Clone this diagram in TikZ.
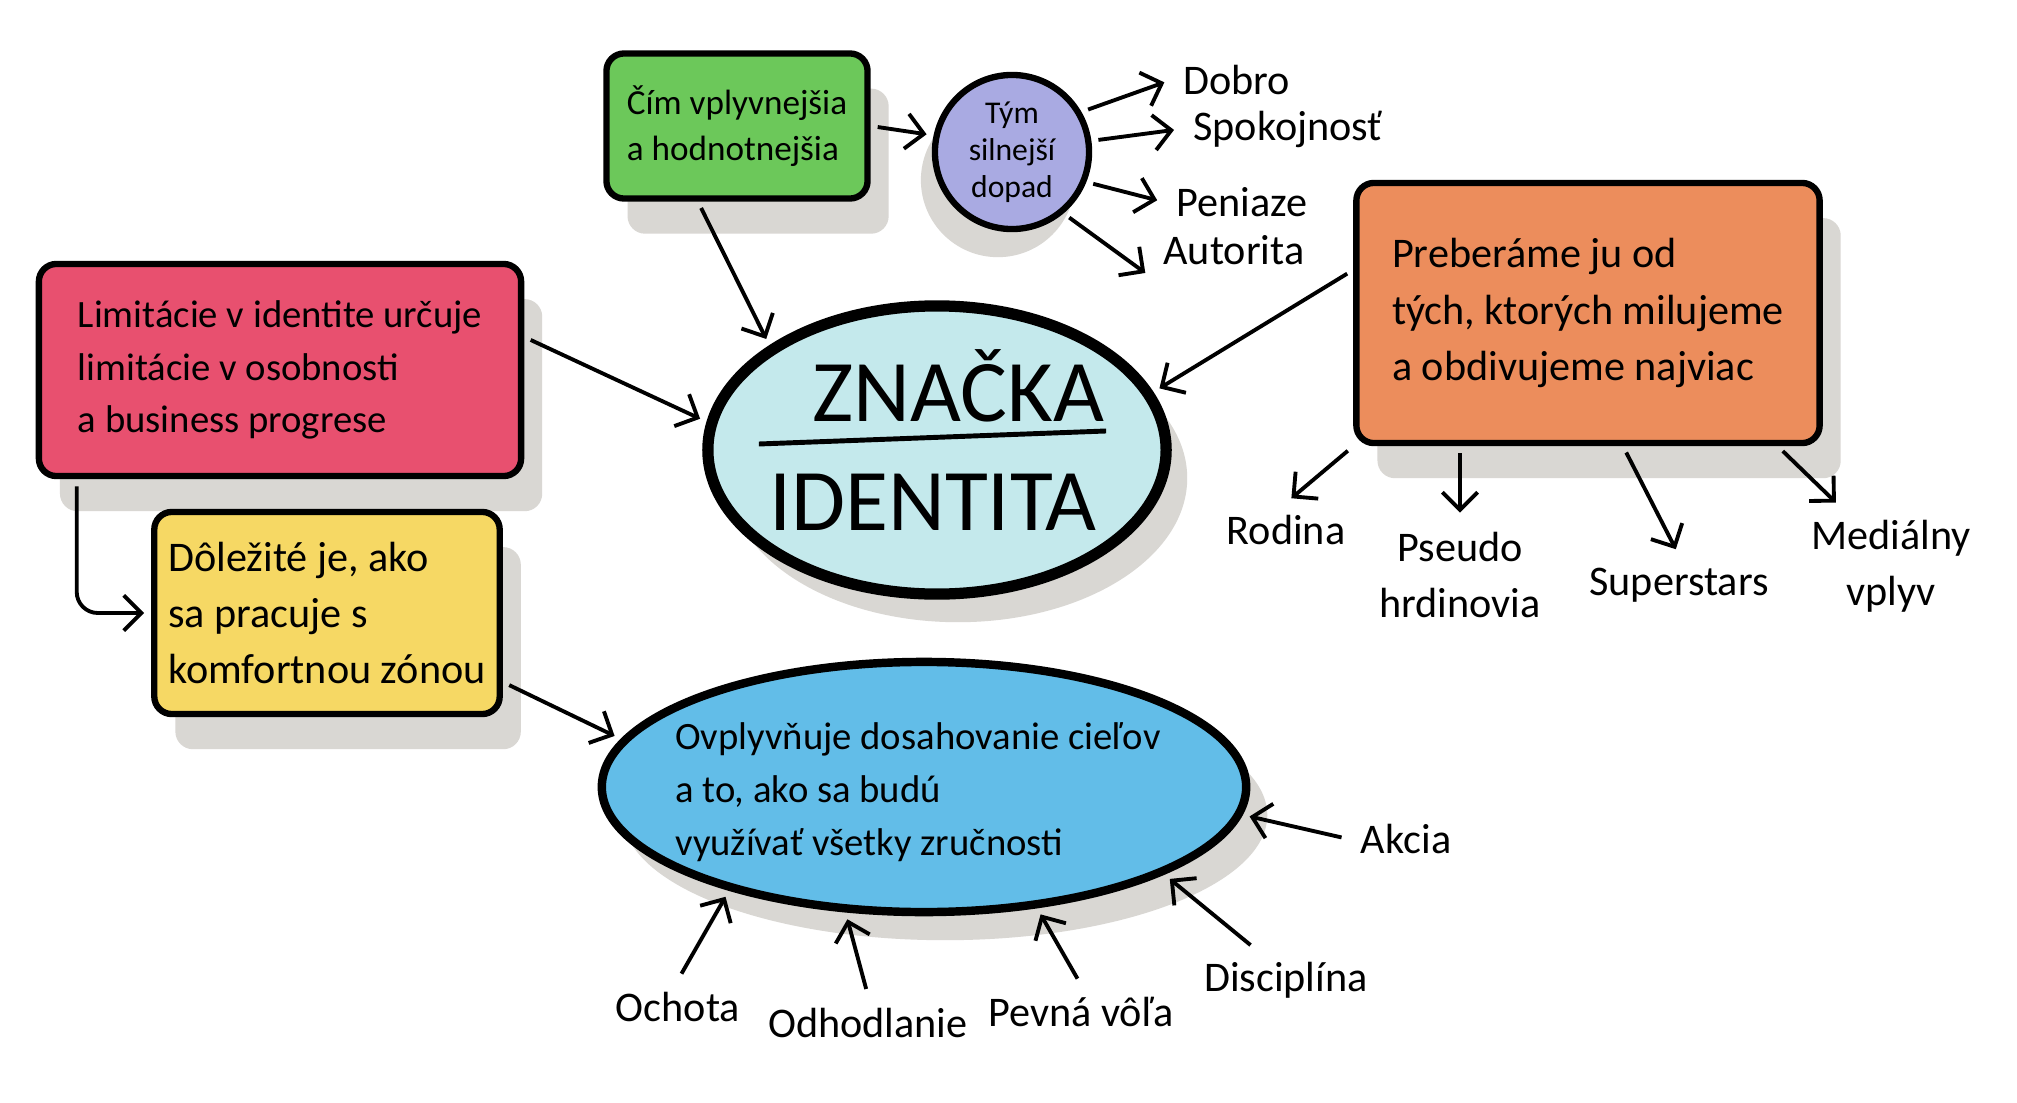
\documentclass[tikz,border=0pt]{standalone}
\usepackage{fontspec}
\setmainfont{Carlito}
\usetikzlibrary{shapes.geometric,shadows,arrows.meta}
\definecolor{notegreen}{HTML}{6CC85A}
\definecolor{notepurple}{HTML}{A9AAE2}
\definecolor{notered}{HTML}{E8506F}
\definecolor{noteyellow}{HTML}{F6D864}
\definecolor{noteorange}{HTML}{EC8D5C}
\definecolor{notecyan}{HTML}{C4E9EC}
\definecolor{noteblue}{HTML}{62BDE8}
\definecolor{noteshadow}{HTML}{D9D7D3}

\begin{document}
\begin{tikzpicture}[x=0.01cm, y=-0.01cm,
    every node/.style={font=\fontsize{12}{16}\selectfont},
    note/.style={draw, line width=1.8pt, rounded corners=5pt, align=left, inner sep=4pt,
        drop shadow={shadow xshift=6pt, shadow yshift=-10pt, fill=noteshadow, opacity=1}},
    bubble/.style={ellipse, draw, line width=2.4pt, inner sep=0pt,
        drop shadow={shadow xshift=6pt, shadow yshift=-8pt, fill=noteshadow, opacity=1}},
    leaf/.style={align=center},
    link/.style={-{Straight Barb[length=5pt, width=10pt]}, line width=1.1pt, shorten <=2pt, shorten >=2pt}]
    \fill[white] (0,0) rectangle (2017,1103);
    \useasboundingbox (0,0) rectangle (2017,1103);

    \node[note, fill=notegreen, minimum width=2.61cm, minimum height=1.45cm, font=\fontsize{10}{13}\selectfont] (green) at (737,126) {Čím vplyvnejšia\\a hodnotnejšia};
    \node[circle, draw, line width=1.8pt, fill=notepurple, minimum size=1.54cm, inner sep=0pt, align=center, font=\fontsize{9}{10.5}\selectfont,
        drop shadow={shadow xshift=-4pt, shadow yshift=-8pt, fill=noteshadow, opacity=1}] (impact) at (1012,152) {Tým\\silnejší\\dopad};
    \node[note, fill=notered, minimum width=4.82cm, minimum height=2.12cm, font=\fontsize{11}{15}\selectfont] (red) at (280,370) {Limitácie v identite určuje\\limitácie v osobnosti\\a business progrese};
    \node[note, fill=noteyellow, minimum width=3.45cm, minimum height=2.02cm] (yellow) at (327,613) {Dôležité je, ako\\sa pracuje s\\komfortnou zónou};
    \node[note, fill=noteorange, minimum width=4.63cm, minimum height=2.6cm] (orange) at (1588,313) {Preberáme ju od\\tých, ktorých milujeme\\a obdivujeme najviac};

    \node[bubble, fill=notecyan, minimum width=4.58cm, minimum height=2.88cm, line width=3.2pt] (brand) at (937,450) {};
    \node[font=\fontsize{25}{30}\selectfont] (brandtop) at (958,386) {ZNAČKA};
    \node[font=\fontsize{25}{30}\selectfont] (brandbottom) at (933,502) {IDENTITA};
    \draw[line width=1.4pt] ([xshift=-1.78cm, yshift=0.06cm]brand.center) -- ([xshift=1.69cm, yshift=0.19cm]brand.center);

    \node[bubble, fill=noteblue, minimum width=6.44cm, minimum height=2.5cm] (goals) at (924,787) {};
    \node[align=left, font=\fontsize{11}{15}\selectfont] (goalstext) at (918,792) {Ovplyvňuje dosahovanie cieľov\\a to, ako sa budú\\využívať všetky zručnosti};

    \node[anchor=west] (dobro) at (1171,80) {Dobro};
    \node[anchor=west] (spokojnost) at (1181,129) {Spokojnosť};
    \node[anchor=west] (peniaze) at (1164,202) {Peniaze};
    \node[anchor=west] (autorita) at (1151,250) {Autorita};
    \node (rodina) at (1286,530) {Rodina};
    \node[leaf] (pseudo) at (1460,575) {Pseudo\\hrdinovia};
    \node (superstars) at (1679,585) {Superstars};
    \node[leaf] (medialny) at (1891,566) {Mediálny\\vplyv};
    \node (ochota) at (678,1007) {Ochota};
    \node (odhodlanie) at (868,1023) {Odhodlanie};
    \node (pevna) at (1081,1012) {Pevná vôľa};
    \node (disciplina) at (1286,980) {Disciplína};
    \node (akcia) at (1406,839) {Akcia};

    \draw[link] (green.east) -- (impact.168);
    \draw[link] ([xshift=-0.39cm]green.south) -- (brand.148);
    \draw[link] (impact.30) -- (dobro.west);
    \draw[link] (impact.8) -- (spokojnost.west);
    \draw[link] (impact.-22) -- (peniaze.west);
    \draw[link] (impact.-50) -- (autorita.south west);
    \draw[link] ([yshift=0.33cm]red.east) -- (brand.173);
    \draw[link, rounded corners=6pt] ([xshift=0.41cm]red.south west) |- (yellow.west);
    \draw[link] ([yshift=-0.69cm]yellow.east) -- (goals.171);
    \draw[link] ([yshift=0.43cm]orange.west) -- (brand.15);
    \draw[link] (orange.south west) -- (rodina.north);
    \draw[link] (orange.south -| pseudo) -- (pseudo.north);
    \draw[link] ([xshift=0.35cm]orange.south) -- (superstars.north);
    \draw[link] ([xshift=-0.45cm]orange.south east) -- ([xshift=-0.5cm]medialny.north);
    \draw[link] (ochota.north) -- (goals.208);
    \draw[link] (odhodlanie.north) -- (goals.238);
    \draw[link] (pevna.north) -- (goals.313);
    \draw[link] ([xshift=-0.3cm]disciplina.north) -- (goals.340);
    \draw[link] (akcia.west) -- (goals.355);
\end{tikzpicture}
\end{document}
